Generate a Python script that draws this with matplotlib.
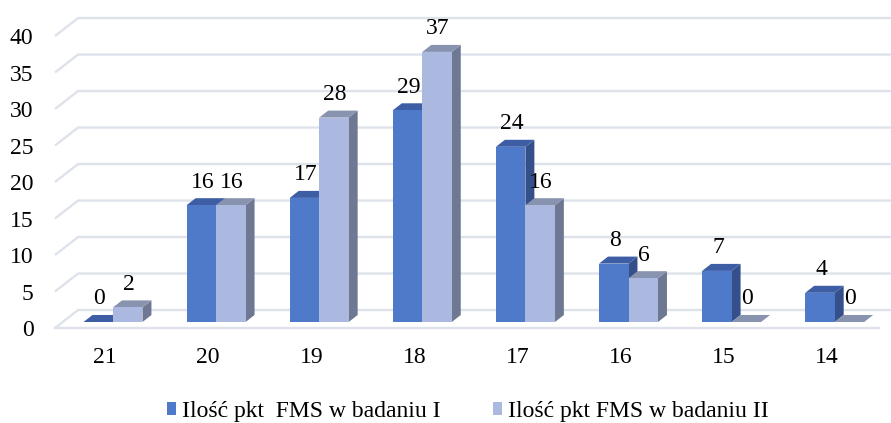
import numpy as np
import matplotlib
matplotlib.use("Agg")
import matplotlib.pyplot as plt
from matplotlib.patches import Polygon, Patch

plt.rcParams['font.family'] = ['Liberation Serif', 'DejaVu Serif']

# data
categories = ['21', '20', '19', '18', '17', '16', '15', '14']
badanie_1 = [0, 16, 17, 29, 24, 8, 7, 4]
badanie_2 = [2, 16, 28, 37, 16, 6, 0, 0]
series_names = ['Ilość pkt  FMS w badaniu I', 'Ilość pkt FMS w badaniu II']
y_ticks = [0, 5, 10, 15, 20, 25, 30, 35, 40]

# colours of the 3D faces: front, top, side
colors = [
    ('#4F7AC9', '#3D5EA4', '#344F8A'),
    ('#ABB8E0', '#8893AF', '#6E7892'),
]
grid_color = '#DEE2EA'

# 3D geometry in data units
bar_w = 0.286
depth_x = 0.087
depth_y = 0.96
front_off = -0.822   # floor front edge
back_off = 1.64      # back wall level
wall_x = -0.339      # where the back wall starts

fig = plt.figure(figsize=(8.91, 4.23), dpi=100)
ax = fig.add_axes([55 / 891, (423 - 328) / 423, 1 - 55 / 891, 328 / 423])
xmin, xmax = -0.5626, 7.546
ax.set_xlim(xmin, xmax)
ax.set_ylim(front_off, 44.11)

# back wall gridlines with perspective slant at the left
for v in y_ticks:
    ax.plot([xmin, wall_x, xmax], [v + front_off, v + back_off, v + back_off],
            color=grid_color, lw=1.7, zorder=1, clip_on=False, solid_capstyle='butt')
ax.plot([xmin, 7.43], [front_off, front_off], color=grid_color, lw=1.7,
        zorder=1, clip_on=False)


def draw_bar(x0, v, cols):
    front, top, side = cols
    x1 = x0 + bar_w
    ax.add_patch(Polygon([(x1, 0), (x1 + depth_x, depth_y), (x1 + depth_x, v + depth_y), (x1, v)],
                         closed=True, fc=side, lw=0, zorder=3))
    ax.add_patch(Polygon([(x0, v), (x1, v), (x1 + depth_x, v + depth_y), (x0 + depth_x, v + depth_y)],
                         closed=True, fc=top, lw=0, zorder=3))
    if v > 0:
        ax.add_patch(Polygon([(x0, 0), (x1, 0), (x1, v), (x0, v)],
                             closed=True, fc=front, lw=0, zorder=3))


for i in range(len(categories)):
    for s, vals in enumerate([badanie_1, badanie_2]):
        v = vals[i]
        x0 = i - bar_w + s * bar_w
        draw_bar(x0, v, colors[s])
        ax.text(x0 + bar_w / 2 + 0.01, v + 2.4, str(v), ha='center', va='baseline',
                fontsize=17, color='black', zorder=5)

ax.set_yticks([v + front_off for v in y_ticks])
ax.set_yticklabels([str(v) for v in y_ticks])
ax.set_xticks([i - 0.077 for i in range(len(categories))])
ax.set_xticklabels(categories)
ax.tick_params(axis='y', length=0, pad=15.5, labelsize=17)
ax.tick_params(axis='x', length=0, pad=14, labelsize=17)
for sp in ax.spines.values():
    sp.set_visible(False)
ax.patch.set_alpha(0)

handles = [Patch(facecolor=colors[0][0]), Patch(facecolor=colors[1][0])]
fig.legend(handles, series_names, loc='center', bbox_to_anchor=(0.525, 0.027),
           ncol=2, frameon=False, fontsize=17, handlelength=0.4, handleheight=0.45,
           handletextpad=0.25, columnspacing=2.2, borderpad=0, borderaxespad=0)

fig.savefig('out.png', dpi=100)
